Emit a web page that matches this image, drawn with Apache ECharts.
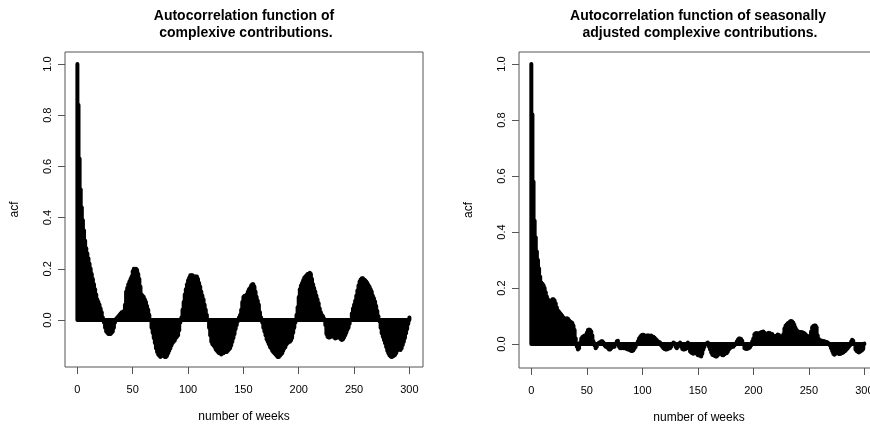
<!DOCTYPE html>
<html>
<head>
<meta charset="utf-8">
<script src="https://cdn.jsdelivr.net/npm/echarts@6/dist/echarts.min.js"></script>
<style>
  html, body { margin: 0; padding: 0; background: #fff; }
  #chart { width: 870px; height: 424px; }
</style>
</head>
<body>
<div id="chart"></div>
<script>
// acf of the raw series, lags 0..300
var acfRaw = [
  1.00, 0.84, 0.63, 0.51, 0.44, 0.39, 0.35, 0.31, 0.28, 0.26,
  0.24, 0.22, 0.20, 0.18, 0.16, 0.14, 0.12, 0.10, 0.08, 0.07,
  0.06, 0.045, 0.03, 0.01, -0.01, -0.03, -0.045, -0.05, -0.055, -0.055,
  -0.055, -0.05, -0.045, -0.03, -0.01, 0.005, 0.01, 0.015, 0.02, 0.025,
  0.03, 0.03, 0.035, 0.06, 0.11, 0.125, 0.14, 0.15, 0.16, 0.17,
  0.19, 0.20, 0.20, 0.20, 0.195, 0.18, 0.16, 0.13, 0.10, 0.095,
  0.09, 0.08, 0.07, 0.055, 0.04, 0.02, 0.00, -0.03, -0.05, -0.07,
  -0.09, -0.11, -0.125, -0.135, -0.14, -0.145, -0.14, -0.14, -0.14, -0.145,
  -0.145, -0.14, -0.13, -0.12, -0.11, -0.10, -0.09, -0.085, -0.08, -0.07,
  -0.065, -0.06, -0.04, -0.01, 0.01, 0.04, 0.07, 0.10, 0.12, 0.14,
  0.155, 0.165, 0.175, 0.175, 0.175, 0.17, 0.17, 0.17, 0.17, 0.16,
  0.145, 0.13, 0.11, 0.095, 0.08, 0.06, 0.04, 0.02, 0.00, -0.03,
  -0.06, -0.085, -0.095, -0.10, -0.105, -0.115, -0.12, -0.125, -0.13, -0.13,
  -0.135, -0.13, -0.13, -0.125, -0.125, -0.125, -0.12, -0.115, -0.11, -0.10,
  -0.085, -0.07, -0.055, -0.035, -0.02, -0.005, 0.01, 0.02, 0.04, 0.07,
  0.09, 0.095, 0.095, 0.10, 0.11, 0.12, 0.125, 0.135, 0.14, 0.14,
  0.13, 0.11, 0.09, 0.075, 0.06, 0.03, 0.01, -0.01, -0.03, -0.045,
  -0.06, -0.075, -0.085, -0.095, -0.105, -0.11, -0.12, -0.125, -0.13, -0.135,
  -0.14, -0.145, -0.145, -0.14, -0.135, -0.13, -0.12, -0.11, -0.105, -0.095,
  -0.09, -0.085, -0.085, -0.08, -0.07, -0.05, -0.03, -0.01, 0.02, 0.05,
  0.09, 0.12, 0.135, 0.145, 0.155, 0.165, 0.17, 0.175, 0.18, 0.18,
  0.185, 0.18, 0.16, 0.14, 0.125, 0.11, 0.095, 0.08, 0.065, 0.045,
  0.03, 0.02, 0.015, 0.005, -0.02, -0.055, -0.065, -0.068, -0.068, -0.065,
  -0.062, -0.063, -0.068, -0.072, -0.07, -0.066, -0.065, -0.07, -0.075, -0.078,
  -0.075, -0.068, -0.06, -0.05, -0.038, -0.03, -0.015, 0.0, 0.025, 0.045,
  0.06, 0.075, 0.095, 0.115, 0.135, 0.15, 0.158, 0.163, 0.163, 0.158,
  0.155, 0.15, 0.145, 0.137, 0.13, 0.12, 0.11, 0.095, 0.085, 0.072,
  0.055, 0.035, 0.015, -0.005, -0.03, -0.052, -0.065, -0.078, -0.091, -0.105,
  -0.12, -0.13, -0.138, -0.143, -0.145, -0.143, -0.14, -0.137, -0.13, -0.12,
  -0.11, -0.115, -0.117, -0.11, -0.098, -0.085, -0.07, -0.052, -0.035, -0.015,
  0.01
]

// acf of the seasonally adjusted series, lags 0..300
var acfAdjusted = [
  1.00, 0.82, 0.58, 0.44, 0.38, 0.33, 0.30, 0.27, 0.24, 0.22,
  0.215, 0.21, 0.20, 0.185, 0.17, 0.16, 0.15, 0.145, 0.155, 0.16,
  0.16, 0.155, 0.145, 0.13, 0.12, 0.115, 0.11, 0.105, 0.10, 0.095,
  0.09, 0.09, 0.092, 0.09, 0.085, 0.08, 0.078, 0.075, 0.065, 0.05,
  0.02, -0.01, -0.02, -0.015, 0.005, 0.02, 0.025, 0.028, 0.03, 0.03,
  0.04, 0.05, 0.052, 0.05, 0.045, 0.03, 0.01, -0.005, -0.015, -0.01,
  0.0, 0.005, 0.005, 0.01, 0.01, 0.005, -0.005, -0.01, -0.01, -0.015,
  -0.02, -0.02, -0.015, -0.01, -0.01, -0.01, 0.0, 0.01, 0.012, -0.01,
  -0.015, -0.015, -0.012, -0.015, -0.015, -0.015, -0.018, -0.02, -0.02, -0.022,
  -0.025, -0.025, -0.022, -0.015, -0.01, 0.0, 0.01, 0.02, 0.025, 0.03,
  0.033, 0.033, 0.03, 0.025, 0.03, 0.03, 0.03, 0.028, 0.03, 0.025,
  0.026, 0.022, 0.018, 0.014, 0.01, 0.007, 0.005, -0.005, -0.01, -0.015,
  -0.018, -0.02, -0.02, -0.018, -0.015, -0.015, -0.01, 0.0, 0.005, 0.003,
  -0.01, -0.015, -0.01, 0.0, 0.005, -0.01, -0.018, -0.02, -0.02, -0.018,
  -0.015, 0.005, -0.01, -0.027, -0.03, -0.033, -0.035, -0.02, -0.025, -0.035,
  -0.04, -0.04, -0.042, -0.045, -0.035, -0.02, -0.01, 0.0, 0.003, 0.005,
  -0.01, -0.02, -0.03, -0.038, -0.04, -0.042, -0.045, -0.045, -0.04, -0.035,
  -0.033, -0.035, -0.04, -0.04, -0.037, -0.033, -0.033, -0.028, -0.02, -0.015,
  -0.012, -0.01, -0.01, -0.005, 0.0, 0.008, 0.015, 0.02, 0.02, 0.018,
  0.012, 0.0, -0.015, -0.017, -0.018, -0.016, -0.015, -0.012, -0.005, 0.01,
  0.02, 0.035, 0.038, 0.038, 0.038, 0.036, 0.04, 0.042, 0.044, 0.045,
  0.04, 0.035, 0.032, 0.038, 0.04, 0.038, 0.036, 0.036, 0.03, 0.025,
  0.024, 0.03, 0.034, 0.032, 0.028, 0.025, 0.026, 0.035, 0.055, 0.065,
  0.07, 0.074, 0.076, 0.08, 0.082, 0.08, 0.076, 0.068, 0.058, 0.05,
  0.046, 0.044, 0.042, 0.043, 0.042, 0.04, 0.038, 0.035, 0.03, 0.025,
  0.025, 0.03, 0.045, 0.06, 0.064, 0.066, 0.066, 0.06, 0.03, 0.018,
  0.014, 0.012, 0.012, 0.01, 0.01, 0.008, 0.007, 0.005, 0.002, -0.005,
  -0.015, -0.025, -0.035, -0.038, -0.035, -0.028, -0.03, -0.036, -0.036, -0.034,
  -0.032, -0.03, -0.027, -0.024, -0.02, -0.015, -0.01, -0.005, 0.008, 0.015,
  0.012, 0.0, -0.02, -0.025, -0.028, -0.03, -0.028, -0.025, -0.022, -0.018,
  0.002
]

var xTicks = [0, 50, 100, 150, 200, 250, 300]
var yTicks = [0, 0.2, 0.4, 0.6, 0.8, 1.0]
var titles = [
  'Autocorrelation function of\n complexive contributions.',
  'Autocorrelation function of seasonally\n adjusted complexive contributions.'
]

var FONT = '"Liberation Sans", Arial, sans-serif'

function toPoints(values) {
  var pts = []
  for (var i = 0; i < values.length; i++) {
    pts.push([i, values[i]])
  }
  return pts
}

function makeX(idx, min, max) {
  return {
    gridIndex: idx,
    type: 'value',
    position: 'bottom',
    min: min,
    max: max,
    name: 'number of weeks',
    nameLocation: 'middle',
    nameGap: 44,
    nameTextStyle: { fontFamily: FONT, fontSize: 12, color: '#000' },
    axisLine: { show: false, onZero: false },
    splitLine: { show: false },
    axisTick: { show: true, inside: false, length: 7, customValues: xTicks, lineStyle: { color: '#555' } },
    axisLabel: { customValues: xTicks, margin: 17, fontFamily: FONT, fontSize: 11, color: '#000' }
  }
}

function makeY(idx, min, max) {
  return {
    gridIndex: idx,
    type: 'value',
    position: 'left',
    min: min,
    max: max,
    name: 'acf',
    nameLocation: 'middle',
    nameRotate: 90,
    nameGap: 44,
    nameTextStyle: { fontFamily: FONT, fontSize: 12, color: '#000' },
    axisLine: { show: false, onZero: false },
    splitLine: { show: false },
    axisTick: { show: true, inside: false, length: 7, customValues: yTicks, lineStyle: { color: '#555' } },
    axisLabel: {
      customValues: yTicks,
      rotate: 90,
      margin: 12,
      fontFamily: FONT,
      fontSize: 11,
      color: '#000',
      formatter: function (v) { return v.toFixed(1) }
    }
  }
}

// one thick vertical stroke per lag, like R's type = "h"
function spikes(idx, values) {
  return {
    type: 'custom',
    xAxisIndex: idx,
    yAxisIndex: idx,
    data: toPoints(values),
    encode: { x: 0, y: 1 },
    renderItem: function (params, api) {
      var lag = api.value(0)
      var p0 = api.coord([lag, 0])
      var p1 = api.coord([lag, api.value(1)])
      return {
        type: 'line',
        shape: { x1: p0[0], y1: p0[1], x2: p1[0], y2: p1[1] },
        style: { stroke: '#000', lineWidth: 4, lineCap: 'round' }
      }
    }
  }
}

var chart = echarts.init(document.getElementById('chart'), null, { renderer: 'canvas' })
chart.setOption({
  animation: false,
  backgroundColor: '#fff',
  graphic: [
    {
      type: 'text', x: 244, y: 25,
      style: { text: titles[0], font: 'bold 14px ' + FONT, fill: '#000', textAlign: 'center', textVerticalAlign: 'middle', lineHeight: 17 }
    },
    {
      type: 'text', x: 698, y: 25,
      style: { text: titles[1], font: 'bold 14px ' + FONT, fill: '#000', textAlign: 'center', textVerticalAlign: 'middle', lineHeight: 17 }
    }
  ],
  grid: [
    { left: 65, top: 52, width: 358, height: 315, show: true, borderColor: '#555', borderWidth: 1, backgroundColor: 'transparent', outerBoundsMode: 'none', containLabel: false },
    { left: 519, top: 52, width: 360, height: 316, show: true, borderColor: '#555', borderWidth: 1, backgroundColor: 'transparent', outerBoundsMode: 'none', containLabel: false }
  ],
  xAxis: [makeX(0, -11.2, 312.3), makeX(1, -11.1, 313.2)],
  yAxis: [makeY(0, -0.1836, 1.047), makeY(1, -0.0857, 1.043)],
  series: [spikes(0, acfRaw), spikes(1, acfAdjusted)]
})
</script>
</body>
</html>
